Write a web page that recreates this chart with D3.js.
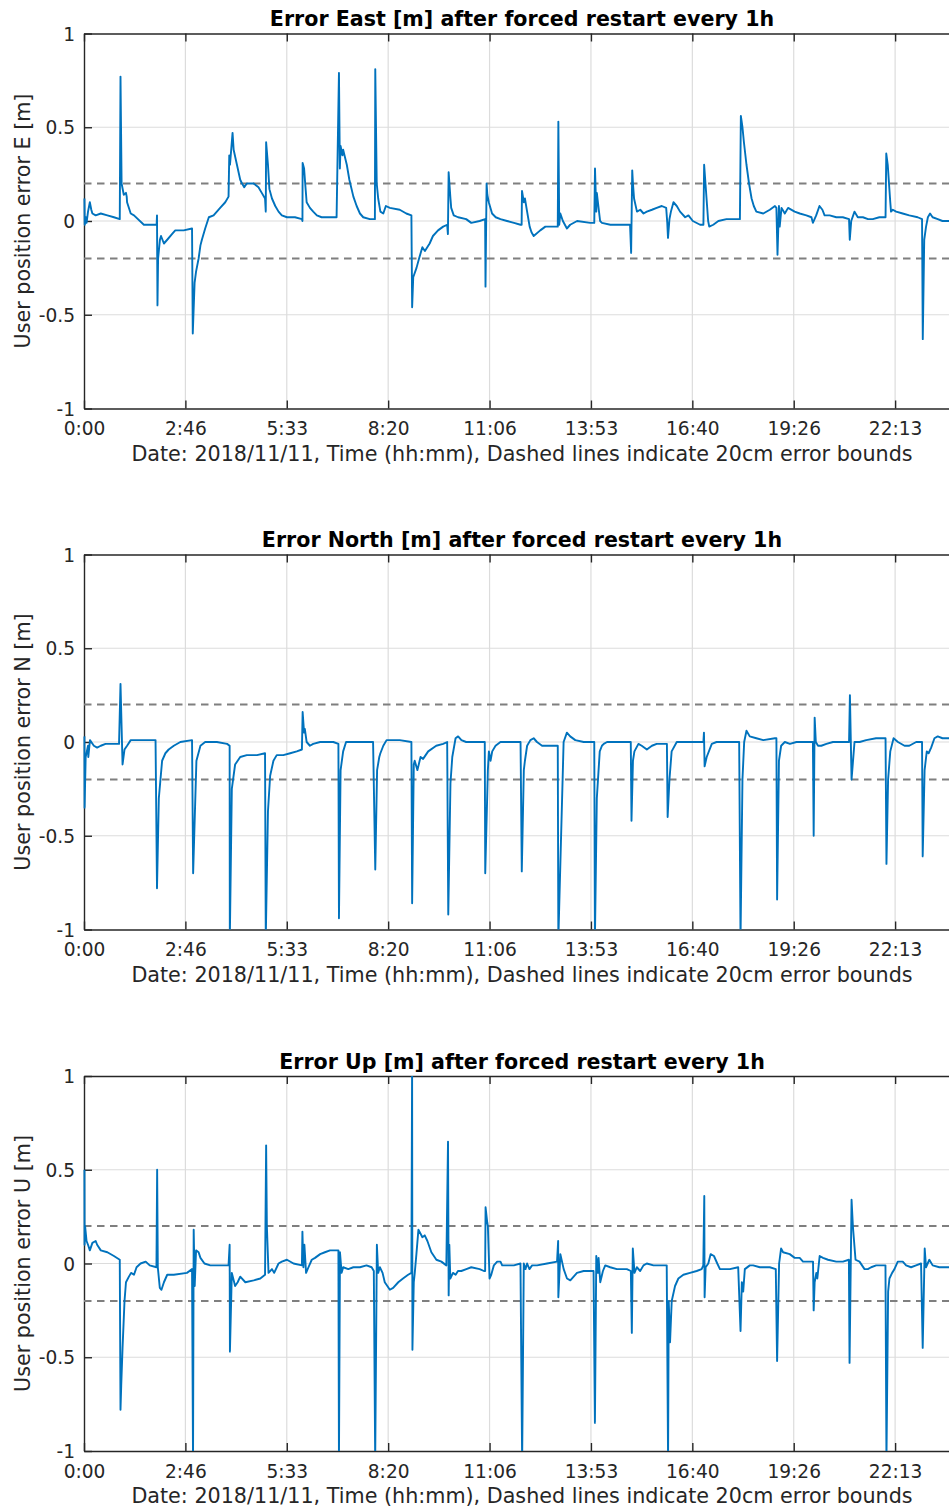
<!DOCTYPE html>
<html>
<head>
<meta charset="utf-8">
<script src="https://cdn.jsdelivr.net/npm/d3@7"></script>
<style>
  html, body { margin: 0; padding: 0; background: #fff; }
  svg { display: block; }
  text { font-family: "DejaVu Sans", sans-serif; }
</style>
</head>
<body>
<svg id="chart" width="949" height="1511"></svg>
<script>
// ---------------- DATA ----------------
// time in hours of 2018/11/11, error in metres
const xTickSeconds = [0, 10000, 20000, 30000, 40000, 50000, 60000, 70000, 80000];
const xTickLabels = ["0:00", "2:46", "5:33", "8:20", "11:06", "13:53", "16:40", "19:26", "22:13"];
const yTickValues = [-1, -0.5, 0, 0.5, 1];
const yTickLabels = ["-1", "-0.5", "0", "0.5", "1"];
const errorBounds = [0.2, -0.2];

const titles = [
  "Error East [m] after forced restart every 1h",
  "Error North [m] after forced restart every 1h",
  "Error Up [m] after forced restart every 1h"
];
const yLabels = [
  "User position error E [m]",
  "User position error N [m]",
  "User position error U [m]"
];
const xLabel = "Date: 2018/11/11, Time (hh:mm), Dashed lines indicate 20cm error bounds";

const east = [
[0.012,0.12],[0.02,-0.02],[0.05,0.02],[0.07,-0.01],[0.11,0.05],[0.16,0.1],[0.2,0.06],[0.23,0.04],[0.32,0.03],[0.46,0.04],[0.64,0.03],[0.82,0.02],[0.98,0.01],
[1.0,0.77],[1.03,0.2],[1.09,0.14],[1.15,0.15],[1.17,0.13],[1.18,0.1],[1.28,0.04],[1.37,0.03],[1.64,-0.02],[1.99,-0.02],
[2.0,0.03],[2.013,-0.45],[2.03,-0.2],[2.08,-0.1],[2.11,-0.08],[2.19,-0.12],[2.28,-0.1],[2.41,-0.07],[2.5,-0.05],[2.73,-0.05],[2.96,-0.04],
[2.98,-0.6],[3.03,-0.33],[3.07,-0.27],[3.14,-0.2],[3.19,-0.13],[3.23,-0.1],[3.32,-0.04],[3.42,0.02],[3.55,0.03],[3.73,0.07],[3.87,0.1],[3.96,0.13],
[3.98,0.35],[4.0,0.3],[4.07,0.47],[4.1,0.38],[4.19,0.3],[4.28,0.22],[4.33,0.2],[4.39,0.18],[4.46,0.2],[4.65,0.2],[4.78,0.18],[4.87,0.15],[4.96,0.12],[4.98,0.05],
[4.99,0.42],[5.04,0.3],[5.08,0.17],[5.15,0.12],[5.24,0.08],[5.33,0.05],[5.42,0.03],[5.56,0.02],[5.78,0.02],[5.97,0.01],[5.985,0.0],
[5.99,0.31],[6.03,0.28],[6.06,0.2],[6.1,0.1],[6.19,0.07],[6.28,0.05],[6.38,0.03],[6.51,0.02],[6.92,0.02],
[6.985,0.79],[7.01,0.28],[7.03,0.4],[7.08,0.35],[7.1,0.38],[7.2,0.3],[7.27,0.22],[7.38,0.13],[7.47,0.08],[7.56,0.04],[7.65,0.02],[7.83,0.01],[7.97,0.01],
[7.98,0.81],[8.02,0.2],[8.06,0.12],[8.12,0.05],[8.2,0.04],[8.27,0.08],[8.38,0.07],[8.65,0.06],[8.83,0.04],[8.97,0.03],
[8.99,-0.46],[9.02,-0.3],[9.11,-0.25],[9.18,-0.2],[9.27,-0.14],[9.34,-0.16],[9.47,-0.12],[9.56,-0.08],[9.7,-0.05],[9.84,-0.03],[9.95,-0.02],[9.97,-0.07],
[9.99,0.26],[10.04,0.12],[10.06,0.07],[10.13,0.03],[10.25,0.02],[10.47,0.01],[10.61,-0.01],[10.84,0.0],[10.99,0.01],
[11.0,-0.35],[11.03,0.2],[11.05,0.14],[11.09,0.1],[11.18,0.04],[11.28,0.02],[11.41,0.01],[11.59,0.0],[11.78,-0.01],[11.96,-0.02],[11.99,-0.02],
[12.0,0.16],[12.05,0.1],[12.08,0.12],[12.14,0.05],[12.21,-0.03],[12.26,-0.06],[12.32,-0.08],[12.5,-0.05],[12.64,-0.03],[12.98,-0.03],
[12.996,0.53],[13.02,-0.02],[13.05,0.04],[13.12,0.0],[13.23,-0.04],[13.32,-0.02],[13.51,0.0],[13.87,-0.01],[13.98,-0.01],
[14.0,0.28],[14.035,0.05],[14.05,0.15],[14.14,0.0],[14.19,-0.01],[14.42,-0.02],[14.96,-0.02],
[14.99,-0.17],[15.02,0.27],[15.04,0.2],[15.07,0.12],[15.15,0.05],[15.24,0.06],[15.33,0.04],[15.42,0.05],[15.56,0.06],[15.69,0.07],[15.83,0.08],[15.95,0.07],[15.98,-0.01],[16.0,-0.09],[16.04,0.01],[16.08,0.05],[16.15,0.1],[16.24,0.08],[16.33,0.05],[16.47,0.02],[16.56,0.03],[16.68,0.0],[16.88,-0.02],[16.97,-0.02],
[16.99,0.3],[17.1,0.0],[17.13,-0.03],[17.24,-0.02],[17.38,0.0],[17.6,0.01],[17.97,0.01],
[17.996,0.56],[18.04,0.5],[18.08,0.42],[18.15,0.3],[18.22,0.2],[18.29,0.12],[18.35,0.08],[18.42,0.05],[18.61,0.04],[18.79,0.06],[18.93,0.08],[18.97,0.07],[19.0,-0.18],[19.04,0.08],[19.06,-0.03],[19.11,0.07],[19.2,0.04],[19.29,0.07],[19.47,0.05],[19.61,0.04],[19.79,0.03],[19.93,0.02],[19.97,-0.01],[20.06,0.03],[20.15,0.08],[20.23,0.06],[20.29,0.03],[20.43,0.03],[20.61,0.02],[20.79,0.02],[20.96,0.01],
[20.98,-0.1],[21.02,0.0],[21.11,0.05],[21.2,0.02],[21.34,0.02],[21.48,0.01],[21.61,0.01],[21.79,0.02],[21.96,0.02],
[21.98,0.36],[22.02,0.3],[22.09,0.1],[22.11,0.05],[22.16,0.06],[22.25,0.05],[22.43,0.04],[22.61,0.03],[22.84,0.02],[22.96,0.01],
[22.98,-0.63],[23.02,-0.1],[23.07,-0.03],[23.12,0.02],[23.18,0.04],[23.25,0.02],[23.39,0.01],[23.52,0.0],[23.68,0.0],[23.99,0.0]
];

const north = [
[0.012,0.03],[0.016,-0.35],[0.046,-0.08],[0.11,-0.02],[0.118,-0.08],[0.164,0.01],[0.2,0.0],[0.27,-0.02],[0.36,-0.03],[0.46,-0.02],[0.59,-0.01],[0.96,-0.01],
[1.0,0.31],[1.056,-0.12],[1.11,-0.04],[1.18,-0.02],[1.28,0.01],[1.55,0.01],[1.96,0.01],
[2.0,-0.78],[2.05,-0.3],[2.14,-0.1],[2.23,-0.06],[2.32,-0.04],[2.46,-0.02],[2.64,0.0],[2.96,0.01],
[2.99,-0.7],[3.08,-0.1],[3.19,-0.02],[3.32,0.0],[3.64,0.0],[3.92,-0.01],[3.99,-0.02],
[3.995,-1.05],[4.05,-0.25],[4.14,-0.12],[4.28,-0.08],[4.46,-0.07],[4.74,-0.07],[4.96,-0.06],
[4.98,-1.05],[5.04,-0.37],[5.1,-0.18],[5.19,-0.1],[5.28,-0.07],[5.46,-0.07],[5.65,-0.06],[5.83,-0.05],[5.97,-0.04],
[5.99,0.16],[6.03,0.05],[6.05,0.07],[6.1,0.0],[6.19,-0.02],[6.28,-0.01],[6.47,0.0],[6.83,0.0],[6.97,-0.01],
[6.985,-0.94],[7.03,-0.15],[7.1,-0.05],[7.18,0.0],[7.92,0.0],
[7.98,-0.68],[8.03,-0.15],[8.09,-0.08],[8.12,-0.06],[8.2,-0.02],[8.29,0.01],[8.65,0.01],[8.97,0.0],
[8.99,-0.86],[9.035,-0.12],[9.06,-0.1],[9.135,-0.15],[9.22,-0.08],[9.29,-0.09],[9.43,-0.05],[9.65,-0.02],[9.84,-0.01],[9.95,0.0],
[9.98,-0.92],[10.04,-0.22],[10.09,-0.08],[10.18,0.02],[10.25,0.03],[10.34,0.01],[10.47,0.0],[10.98,0.0],
[10.993,-0.7],[11.065,-0.15],[11.093,-0.05],[11.138,-0.1],[11.184,-0.05],[11.275,-0.02],[11.41,0.0],[11.96,0.0],
[11.994,-0.69],[12.05,-0.15],[12.08,-0.1],[12.14,-0.02],[12.23,0.01],[12.32,0.02],[12.41,0.0],[12.55,-0.02],[12.98,-0.02],
[12.996,-1.05],[13.14,0.0],[13.23,0.05],[13.32,0.03],[13.46,0.01],[13.69,0.0],[13.98,0.0],
[13.998,-1.05],[14.05,-0.3],[14.13,-0.05],[14.19,-0.02],[14.24,-0.01],[14.33,0.0],[14.98,0.0],
[15.0,-0.42],[15.04,-0.1],[15.08,-0.05],[15.19,-0.01],[15.28,-0.02],[15.42,-0.04],[15.56,-0.02],[15.69,-0.01],[15.97,-0.01],
[15.99,-0.4],[16.04,-0.2],[16.1,-0.05],[16.24,0.0],[16.97,0.0],
[16.985,0.05],[17.003,-0.13],[17.06,-0.08],[17.2,-0.01],[17.33,0.0],[17.95,0.0],
[17.987,-1.05],[18.04,-0.2],[18.087,0.0],[18.15,0.06],[18.24,0.03],[18.42,0.02],[18.61,0.01],[18.93,0.02],[18.97,0.02],
[18.989,-0.84],[19.04,-0.1],[19.1,-0.02],[19.2,0.0],[19.34,-0.01],[19.52,0.0],[19.97,0.0],
[19.991,-0.5],[20.018,0.13],[20.05,0.0],[20.11,-0.02],[20.2,-0.02],[20.34,-0.01],[20.52,0.0],[20.96,0.0],
[20.984,0.25],[21.029,-0.2],[21.11,0.0],[21.25,0.0],[21.43,0.01],[21.7,0.02],[21.96,0.02],
[21.985,-0.65],[22.03,-0.2],[22.09,-0.05],[22.18,0.02],[22.3,0.0],[22.48,-0.02],[22.61,-0.02],[22.8,0.0],[22.96,0.0],
[22.978,-0.61],[23.03,-0.15],[23.09,-0.05],[23.14,-0.06],[23.21,-0.03],[23.3,0.02],[23.39,0.03],[23.52,0.02],[23.68,0.02],[23.99,0.02]
];

const up = [
[0.012,0.5],[0.016,0.1],[0.03,0.2],[0.07,0.12],[0.11,0.1],[0.16,0.07],[0.23,0.11],[0.32,0.12],[0.36,0.1],[0.46,0.07],[0.64,0.06],[0.82,0.04],[0.98,0.02],
[1.0,-0.78],[1.02,-0.65],[1.056,-0.45],[1.11,-0.2],[1.15,-0.1],[1.23,-0.07],[1.29,-0.05],[1.37,-0.06],[1.44,-0.02],[1.55,0.0],[1.69,0.01],[1.8,-0.01],[1.985,-0.02],
[2.004,0.5],[2.022,-0.02],[2.077,-0.13],[2.122,-0.14],[2.19,-0.1],[2.28,-0.06],[2.46,-0.06],[2.82,-0.05],[2.96,-0.03],
[2.987,-1.05],[3.005,0.18],[3.033,-0.12],[3.07,0.07],[3.14,0.06],[3.19,0.03],[3.3,0.0],[3.46,-0.01],[3.73,-0.01],[3.96,-0.01],
[3.99,0.1],[3.998,-0.47],[4.05,-0.05],[4.14,-0.12],[4.21,-0.1],[4.28,-0.07],[4.42,-0.1],[4.65,-0.09],[4.83,-0.08],[4.96,-0.06],
[4.99,0.63],[5.01,0.2],[5.055,-0.05],[5.15,-0.03],[5.21,-0.05],[5.33,0.0],[5.42,0.01],[5.56,0.02],[5.74,0.0],[5.97,-0.01],
[5.984,0.17],[6.011,-0.02],[6.038,0.1],[6.084,-0.05],[6.15,-0.02],[6.24,0.02],[6.33,0.03],[6.47,0.05],[6.6,0.06],[6.74,0.07],[6.97,0.07],
[6.985,-1.05],[7.013,0.06],[7.058,-0.05],[7.1,-0.02],[7.24,-0.03],[7.38,-0.02],[7.56,-0.02],[7.74,-0.01],[7.88,-0.02],[7.94,-0.04],
[7.978,-1.05],[8.024,0.1],[8.06,-0.05],[8.106,-0.02],[8.18,-0.05],[8.24,-0.1],[8.38,-0.14],[8.47,-0.13],[8.61,-0.1],[8.74,-0.08],[8.88,-0.06],[8.97,-0.05],
[8.989,1.05],[8.998,-0.46],[9.035,-0.1],[9.062,-0.05],[9.107,0.05],[9.162,0.18],[9.217,0.16],[9.271,0.14],[9.335,0.15],[9.408,0.12],[9.517,0.06],[9.654,0.02],[9.791,0.01],[9.927,-0.01],
[9.973,0.65],[9.991,-0.17],[10.009,0.1],[10.036,-0.08],[10.109,-0.05],[10.182,-0.06],[10.246,-0.04],[10.337,-0.04],[10.474,-0.03],[10.61,-0.02],[10.84,-0.03],[10.956,-0.04],[10.99,-0.04],
[11.002,0.3],[11.047,0.22],[11.065,0.2],[11.111,-0.08],[11.157,-0.06],[11.229,-0.01],[11.32,0.01],[11.41,0.01],[11.457,-0.01],[11.594,-0.01],[11.776,-0.01],[11.958,0.0],
[12.004,-1.05],[12.049,0.0],[12.095,-0.03],[12.14,0.0],[12.204,-0.03],[12.277,-0.01],[12.413,-0.01],[12.687,0.0],[12.96,0.01],
[12.99,0.12],[12.996,-0.18],[13.051,0.05],[13.142,-0.03],[13.233,-0.08],[13.324,-0.09],[13.415,-0.07],[13.506,-0.05],[13.689,-0.04],[13.96,-0.04],
[13.998,-0.85],[14.035,0.04],[14.08,-0.05],[14.098,0.03],[14.144,-0.1],[14.217,-0.04],[14.281,-0.01],[14.417,-0.02],[14.599,-0.03],[14.872,-0.03],[14.982,-0.04],
[15.009,-0.37],[15.036,0.08],[15.082,-0.05],[15.146,-0.02],[15.237,-0.04],[15.328,-0.01],[15.419,0.0],[15.601,-0.01],[15.965,-0.01],
[16.002,-1.05],[16.02,-0.2],[16.056,-0.42],[16.102,-0.2],[16.193,-0.12],[16.284,-0.08],[16.421,-0.06],[16.603,-0.05],[16.785,-0.04],[16.922,-0.03],[16.967,-0.01],
[16.994,0.36],[17.003,-0.18],[17.031,-0.02],[17.104,0.0],[17.168,0.05],[17.259,0.04],[17.35,0.0],[17.423,-0.03],[17.696,-0.03],[17.923,-0.02],
[17.987,-0.36],[18.023,-0.1],[18.06,-0.15],[18.105,-0.03],[18.242,-0.01],[18.333,-0.01],[18.515,-0.02],[18.789,-0.02],[18.953,-0.03],
[18.989,-0.52],[19.044,0.0],[19.098,0.08],[19.153,0.06],[19.335,0.05],[19.472,0.03],[19.608,0.03],[19.699,0.01],[19.973,0.01],
[19.991,-0.25],[20.018,-0.1],[20.064,-0.05],[20.091,-0.08],[20.155,0.04],[20.246,0.03],[20.383,0.02],[20.61,0.01],[20.793,0.01],[20.956,0.02],
[20.974,-0.53],[21.029,0.34],[21.065,0.2],[21.138,0.02],[21.247,0.01],[21.384,-0.03],[21.475,-0.03],[21.566,-0.02],[21.703,-0.01],[21.958,-0.01],
[21.985,-1.05],[22.031,-0.15],[22.067,-0.08],[22.14,-0.05],[22.204,-0.03],[22.295,0.01],[22.432,0.01],[22.523,-0.01],[22.659,-0.02],[22.796,-0.01],[22.933,0.0],
[22.978,-0.45],[23.033,0.08],[23.069,-0.02],[23.16,0.02],[23.251,-0.01],[23.434,-0.02],[23.679,-0.02],[23.99,-0.02]
];

const series = [east, north, up];

// ---------------- LAYOUT ----------------
const svg = d3.select("#chart");
const plotLeft = 84, plotRight = 960, plotH = 375;
const panelTops = [33.5, 554.5, 1076];
const axisColor = "#262626";
const lineColor = "#0072BD";

const x = d3.scaleLinear().domain([0, 24]).range([plotLeft, plotRight]);
const xTickHours = xTickSeconds.map(s => s / 3600);

series.forEach((data, i) => {
  const top = panelTops[i];
  const bottom = top + plotH;
  const y = d3.scaleLinear().domain([-1, 1]).range([bottom, top]);
  const g = svg.append("g");

  const clipId = "clip" + i;
  svg.append("defs").append("clipPath").attr("id", clipId)
    .append("rect").attr("x", plotLeft - 1).attr("y", top)
    .attr("width", plotRight - plotLeft + 1).attr("height", plotH);

  // grid
  g.append("g").selectAll("line").data(xTickHours.slice(1)).join("line")
    .attr("x1", d => x(d)).attr("x2", d => x(d))
    .attr("y1", top).attr("y2", bottom)
    .attr("stroke", "#dcdcdc").attr("stroke-width", 1.2);
  g.append("g").selectAll("line").data(yTickValues.slice(1, -1)).join("line")
    .attr("x1", plotLeft).attr("x2", plotRight)
    .attr("y1", d => y(d)).attr("y2", d => y(d))
    .attr("stroke", "#dcdcdc").attr("stroke-width", 1.2);

  // axes (drawn beneath the data, as in the source)
  const xAxisB = d3.axisBottom(x).tickValues(xTickHours)
    .tickFormat((d, k) => xTickLabels[k]).tickSize(-8).tickSizeOuter(0).tickPadding(12);
  const gxb = g.append("g").attr("transform", `translate(0,${bottom})`).call(xAxisB);
  const xAxisT = d3.axisTop(x).tickValues(xTickHours).tickFormat("").tickSize(-8).tickSizeOuter(0);
  const gxt = g.append("g").attr("transform", `translate(0,${top})`).call(xAxisT);
  const yAxisL = d3.axisLeft(y).tickValues(yTickValues)
    .tickFormat((d, k) => yTickLabels[k]).tickSize(-8).tickSizeOuter(0).tickPadding(9);
  const gyl = g.append("g").attr("transform", `translate(${plotLeft},0)`).call(yAxisL);

  [gxb, gxt, gyl].forEach(a => {
    a.select(".domain").attr("stroke", axisColor).attr("stroke-width", 1.4);
    a.selectAll(".tick line").attr("stroke", axisColor).attr("stroke-width", 1.4);
    a.selectAll(".tick text").attr("fill", axisColor)
      .style("font-family", "'DejaVu Sans', sans-serif").style("font-size", "18.6px");
  });
  gxb.selectAll(".tick text").attr("dy", "0.71em").attr("y", 13.5);
  gyl.selectAll(".tick text").attr("dy", "0.36em");

  // dashed bounds
  g.append("g").selectAll("line").data(errorBounds).join("line")
    .attr("x1", plotLeft).attr("x2", plotRight)
    .attr("y1", d => y(d)).attr("y2", d => y(d))
    .attr("stroke", "#7f7f7f").attr("stroke-width", 1.8)
    .attr("stroke-dasharray", "7.5,5.5");

  // data
  const line = d3.line().x(d => x(d[0])).y(d => y(d[1]));
  g.append("path").datum(data)
    .attr("clip-path", `url(#${clipId})`)
    .attr("d", line)
    .attr("fill", "none")
    .attr("stroke", lineColor)
    .attr("stroke-width", 1.9)
    .attr("stroke-linejoin", "round");

  // title
  svg.append("text")
    .attr("x", (plotLeft + plotRight) / 2).attr("y", top - 7.5)
    .attr("text-anchor", "middle")
    .style("font-size", "20.6px").style("font-weight", "bold")
    .attr("fill", "#000")
    .text(titles[i]);

  // x label
  svg.append("text")
    .attr("x", (plotLeft + plotRight) / 2).attr("y", bottom + 52)
    .attr("text-anchor", "middle")
    .style("font-size", "20.7px").attr("fill", axisColor)
    .text(xLabel);

  // y label
  svg.append("text")
    .attr("transform", `translate(29.5,${(top + bottom) / 2}) rotate(-90)`)
    .attr("text-anchor", "middle")
    .style("font-size", "20.7px").attr("fill", axisColor)
    .text(yLabels[i]);
});
</script>
</body>
</html>
